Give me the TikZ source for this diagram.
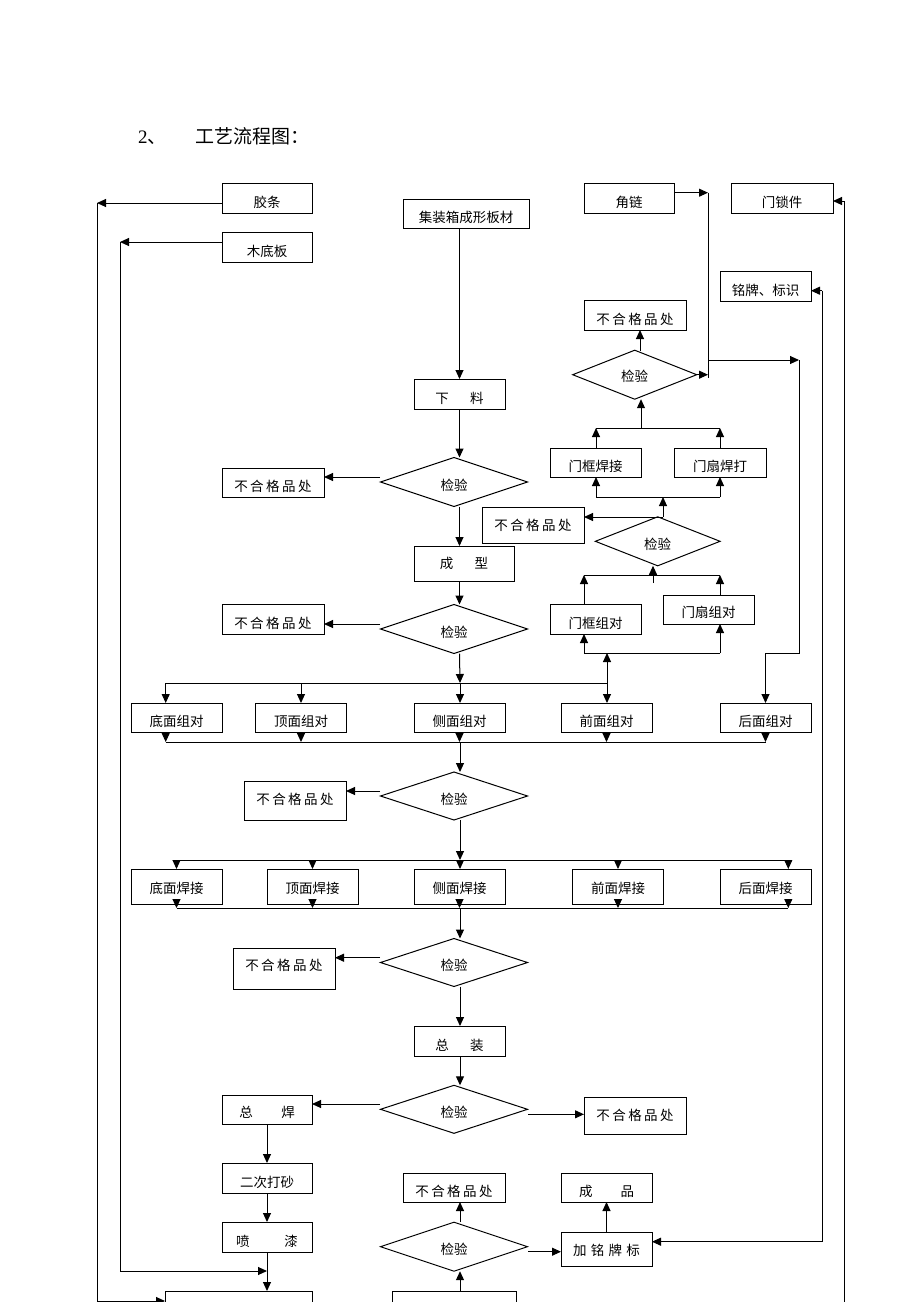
\documentclass[tikz,border=0pt]{standalone}
\usepackage{fontspec}
\setmainfont{Liberation Serif}
\newfontfamily\cjk{Noto Sans CJK SC}
\usetikzlibrary{shapes.geometric,arrows.meta,calc}
\newcommand\gp{\hspace{2.5pt}}
\begin{document}
\begin{tikzpicture}[x=1pt,y=-1pt,
  base/.style={draw, line width=1pt, inner sep=0pt, outer sep=0pt,
    font=\cjk\fontsize{13.5pt}{14pt}\selectfont, text depth=0pt},
  bx/.style={base, rectangle, text height=#1},
  bx/.default=18pt,
  sz/.style 2 args={minimum width=#1pt, minimum height=#2pt},
  dia/.style={base, diamond, text height=16pt, minimum width=147pt, minimum height=49pt},
  ln/.style={line width=1pt},
  arr/.style={line width=1pt, -{Triangle[length=9pt,width=8pt]}}
]
\useasboundingbox (0,0) rectangle (920,1302);
\clip (0,0) rectangle (920,1302);

% title
\node[anchor=base west, inner sep=0pt, font=\fontsize{19pt}{20pt}\selectfont] (title) at (138,143)
  {2{\cjk 、}\hspace{29pt}{\cjk 工艺流程图：}};

% ---------- boxes ----------
\node[bx, sz={90}{30}] (jiaotiao) at (267,198) {胶条};
\node[bx, sz={90}{30}] (mudiban) at (267,247) {木底板};
\node[bx, sz={126}{29}] (jzx) at (466,213.5) {集装箱成形板材};
\node[bx, sz={90}{30}] (jiaolian) at (629,198) {角链};
\node[bx, sz={102}{30}] (mensuo) at (782,198) {门锁件};
\node[bx, sz={91}{30}] (mingpai) at (765.5,286) {铭牌、标识};
\node[bx, sz={102}{30}] (bhg1) at (635,315) {不\gp 合\gp 格\gp 品\gp 处};
\node[bx, sz={91}{30}] (xialiao) at (459.5,394) {下\hspace{21.5pt}料};
\node[bx=17pt, sz={102}{29}] (bhg2) at (273,482.5) {不\gp 合\gp 格\gp 品\gp 处};
\node[bx=17pt, sz={91}{29}] (mkhj) at (595.5,462.5) {门框焊接};
\node[bx=17pt, sz={92}{29}] (msh) at (720,462.5) {门扇焊打};
\node[bx=10pt, sz={102}{36}] (bhg3) at (533,525) {不\gp 合\gp 格\gp 品\gp 处};
\node[bx=10pt, sz={100}{35}] (chengxing) at (464,563.5) {成\hspace{21.5pt}型};
\node[bx, sz={102}{30}] (bhg4) at (273,619) {不\gp 合\gp 格\gp 品\gp 处};
\node[bx, sz={91}{30}] (mkzd) at (595.5,619) {门框组对};
\node[bx=16pt, sz={91}{29}] (mszd) at (708.5,609.5) {门扇组对};

\node[bx=17pt, sz={91}{29}] (dmzd) at (176.5,717.5) {底面组对};
\node[bx=17pt, sz={91}{29}] (dingzd) at (301,717.5) {顶面组对};
\node[bx=17pt, sz={91}{29}] (cezd) at (459.5,717.5) {侧面组对};
\node[bx=17pt, sz={91}{29}] (qmzd) at (606.5,717.5) {前面组对};
\node[bx=17pt, sz={91}{29}] (hmzd) at (765.5,717.5) {后面组对};

\node[bx=7pt, sz={102}{39}] (bhg5) at (295,800.5) {不\gp 合\gp 格\gp 品\gp 处};

\node[bx=13pt, sz={91}{35}] (dmhj) at (176.5,886.5) {底面焊接};
\node[bx=13pt, sz={91}{35}] (dinghj) at (312.5,886.5) {顶面焊接};
\node[bx=13pt, sz={91}{35}] (cehj) at (459.5,886.5) {侧面焊接};
\node[bx=13pt, sz={91}{35}] (qmhj) at (618,886.5) {前面焊接};
\node[bx=13pt, sz={91}{35}] (hmhj) at (765.5,886.5) {后面焊接};

\node[bx=4pt, sz={102}{41}] (bhg6) at (284,968.5) {不\gp 合\gp 格\gp 品\gp 处};
\node[bx, sz={91}{30}] (zz) at (459.5,1041) {总\hspace{21.5pt}装};
\node[bx=16pt, sz={90}{29}] (zonghan) at (267,1109.5) {总\hspace{28.5pt}焊};
\node[bx=10pt, sz={102}{37}] (bhg7) at (635,1115.5) {不\gp 合\gp 格\gp 品\gp 处};
\node[bx, sz={90}{30}] (ercidasha) at (267,1178) {二次打砂};
\node[bx, sz={90}{30}] (penqi) at (267,1237) {喷\hspace{35pt}漆};
\node[bx, sz={102}{29}] (bhg8) at (454,1187.5) {不\gp 合\gp 格\gp 品\gp 处};
\node[bx, sz={91}{29}] (chengpin) at (606.5,1187.5) {成\hspace{28pt}品};
\node[bx=13.5pt, sz={91}{34}] (jmp) at (606.5,1249) {加\hspace{4.3pt}铭\hspace{4.3pt}牌\hspace{4.3pt}标};
\node[bx, sz={147}{30}] (bbl) at (238.5,1306) {};
\node[bx, sz={124}{30}] (bbr) at (454,1306) {};

% ---------- diamonds ----------
\node[dia, text height=14pt, minimum width=124pt] (dtop) at (634.7,374.7) {检验};
\node[dia] (d1) at (454,482) {检验};
\node[dia, minimum width=124.7pt] (dmid) at (657.7,541.3) {检验};
\node[dia] (d2) at (454,629) {检验};
\node[dia, minimum height=48pt] (d3) at (454,796) {检验};
\node[dia, minimum height=48pt] (d4) at (454,962.5) {检验};
\node[dia, minimum height=48pt] (d5) at (454,1109.3) {检验};
\node[dia] (d6) at (454,1246.7) {检验};

% ---------- helper coordinates ----------
\coordinate (a1) at (97,203);
\coordinate (a2) at (97,1301);
\coordinate (b1) at (120,242);
\coordinate (b2) at (120,1271);
\coordinate (d1l) at (380,477);
\coordinate (d2l) at (380,624);
\coordinate (r1) at (460,683);
\coordinate (r1l) at (165.7,683);
\coordinate (r1r) at (607,683);
\coordinate (dm) at (607,653);
\coordinate (dml) at (584,653);
\coordinate (dmr) at (720,653);
\coordinate (ul) at (584,575);
\coordinate (ur) at (720,575);
\coordinate (um) at (653,583);
\coordinate (mt) at (663,517);
\coordinate (vl) at (596,497);
\coordinate (vr) at (720,497);
\coordinate (wl) at (596,428);
\coordinate (wr) at (720,428);
\coordinate (wm) at (641,428);
\coordinate (tt) at (640,351);
\coordinate (jx) at (708,374.7);
\coordinate (jt) at (708,192.7);
\coordinate (jb) at (708,378);
\coordinate (k1) at (708,360);
\coordinate (k2) at (799,360);
\coordinate (k3) at (799,653);
\coordinate (k4) at (765.5,653);
\coordinate (s1l) at (165.7,742);
\coordinate (s1r) at (765.5,742);
\coordinate (s1m) at (460,742);
\coordinate (d3l) at (380,791);
\coordinate (r2m) at (460,860);
\coordinate (r2l) at (176.5,860);
\coordinate (r2r) at (788.3,860);
\coordinate (s2m) at (460,908);
\coordinate (s2l) at (176.5,908);
\coordinate (s2r) at (788.3,908);
\coordinate (d4l) at (380,957.7);
\coordinate (d5l) at (380,1104);
\coordinate (d5r) at (528,1114.3);
\coordinate (d6r) at (528,1251.7);
\coordinate (m1) at (822,290.7);
\coordinate (m2) at (822,1241.7);
\coordinate (n1) at (844,201);
\coordinate (n2) at (844,1310);

% ---------- connectors ----------
% left feed lines
\draw[arr] (jiaotiao.west |- a1) -- (a1);
\draw[arr] (a1) -- (a2) -- (a2 -| bbl.west);
\draw[arr] (mudiban.west |- b1) -- (b1);
\draw[arr] (b1) -- (b2) -- (b2 -| penqi.south);

% main column top
\draw[arr] (jzx.south -| xialiao.north) -- (xialiao.north);
\draw[arr] (xialiao.south) -- (xialiao.south |- d1.north);
\draw[arr] (d1l) -- (d1l -| bhg2.east);
\draw[arr] (xialiao.south |- d1.south) -- (xialiao.south |- chengxing.north);
\draw[arr] (xialiao.south |- chengxing.south) -- (xialiao.south |- d2.north);
\draw[arr] (d2l) -- (d2l -| bhg4.east);
\draw[arr] (xialiao.south |- d2.south) -- (r1);

% distribution row 1
\draw[ln] (r1l) -- (r1r);
\draw[arr] (r1l) -- (r1l |- dmzd.north);
\draw[arr] (dingzd.north |- r1) -- (dingzd.north);
\draw[arr] (r1) -- (r1 |- cezd.north);
\draw[arr] (r1r) -- (r1r |- qmzd.north);
\draw[arr] (r1r) -- (dm);

% door branch
\draw[ln] (dml) -- (dmr);
\draw[arr] (dml) -- (dml |- mkzd.south);
\draw[arr] (dmr) -- (dmr |- mszd.south);
\draw[arr] (ul |- mkzd.north) -- (ul);
\draw[arr] (ur |- mszd.north) -- (ur);
\draw[ln] (ul) -- (ur);
\draw[arr] (um) -- (um |- dmid.south);
\draw[arr] (mt) -- (mt -| bhg3.east);
\draw[arr] (mt) -- (mt |- vl);
\draw[ln] (vl) -- (vr);
\draw[arr] (vl) -- (vl |- mkhj.south);
\draw[arr] (vr) -- (vr |- msh.south);
\draw[arr] (wl |- mkhj.north) -- (wl);
\draw[arr] (wr |- msh.north) -- (wr);
\draw[ln] (wl) -- (wr);
\draw[arr] (wm) -- (wm |- dtop.south);
\draw[arr] (tt) -- (tt |- bhg1.south);
\draw[arr] (dtop.east) -- (jx);
\draw[arr] (jiaolian.east |- jt) -- (jt);
\draw[ln] (jt) -- (jb);
\draw[arr] (k1) -- (k2);
\draw[arr] (k2) -- (k3) -- (k4) -- (k4 |- hmzd.north);

% collect row 1
\draw[arr] (s1l |- dmzd.south) -- (s1l);
\draw[arr] (dingzd.south) -- (dingzd.south |- s1l);
\draw[arr] (cezd.south) -- (cezd.south |- s1l);
\draw[arr] (qmzd.south) -- (qmzd.south |- s1l);
\draw[arr] (hmzd.south) -- (hmzd.south |- s1l);
\draw[ln] (s1l) -- (s1r);
\draw[arr] (s1m) -- (s1m |- d3.north);
\draw[arr] (d3l) -- (d3l -| bhg5.east);
\draw[arr] (s1m |- d3.south) -- (r2m);

% distribution row 2
\draw[ln] (r2l) -- (r2r);
\draw[arr] (r2l) -- (r2l |- dmhj.north);
\draw[arr] (dinghj.north |- r2m) -- (dinghj.north);
\draw[arr] (r2m) -- (r2m |- cehj.north);
\draw[arr] (qmhj.north |- r2m) -- (qmhj.north);
\draw[arr] (r2r) -- (r2r |- hmhj.north);

% collect row 2
\draw[arr] (dmhj.south) -- (s2l);
\draw[arr] (dinghj.south) -- (dinghj.south |- s2l);
\draw[arr] (cehj.south) -- (cehj.south |- s2l);
\draw[arr] (qmhj.south) -- (qmhj.south |- s2l);
\draw[arr] (s2r |- hmhj.south) -- (s2r);
\draw[ln] (s2l) -- (s2r);
\draw[arr] (s2m) -- (s2m |- d4.north);
\draw[arr] (d4l) -- (d4l -| bhg6.east);
\draw[arr] (s2m |- d4.south) -- (s2m |- zz.north);
\draw[arr] (s2m |- zz.south) -- (s2m |- d5.north);
\draw[arr] (d5l) -- (d5l -| zonghan.east);
\draw[arr] (d5r) -- (d5r -| bhg7.west);

% finishing
\draw[arr] (zonghan.south) -- (ercidasha.north);
\draw[arr] (ercidasha.south) -- (penqi.north);
\draw[arr] (penqi.south) -- (penqi.south |- bbl.north);
\draw[arr] (s2m |- bbr.north) -- (s2m |- d6.south);
\draw[arr] (s2m |- d6.north) -- (s2m |- bhg8.south);
\draw[arr] (d6r) -- (d6r -| jmp.west);
\draw[arr] (jmp.north) -- (chengpin.south);

% right feed lines
\draw[arr] (m1) -- (m1 -| mingpai.east);
\draw[arr] (m1) -- (m2) -- (m2 -| jmp.east);
\draw[arr] (n1) -- (n1 -| mensuo.east);
\draw[ln] (n1) -- (n2);
\end{tikzpicture}
\end{document}
